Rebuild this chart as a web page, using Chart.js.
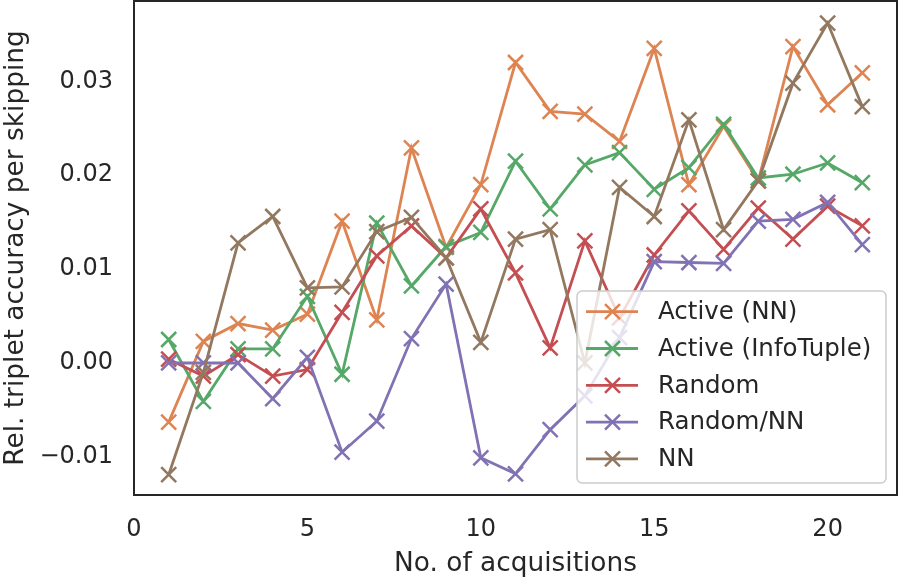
<!DOCTYPE html>
<html>
<head>
<meta charset="utf-8">
<script src="https://cdn.jsdelivr.net/npm/chart.js@4/dist/chart.umd.min.js"></script>
<style>
  html, body { margin: 0; padding: 0; background: #fff; }
  #wrap { width: 899px; height: 578px; }
</style>
</head>
<body>
<div id="wrap"><canvas id="acq-chart"></canvas></div>
<script>
// values
const acquisitions = [1, 2, 3, 4, 5, 6, 7, 8, 9, 10, 11, 12, 13, 14, 15, 16, 17, 18, 19, 20, 21];
const activeNN = [-0.0063, 0.0023, 0.0042, 0.0035, 0.0052, 0.0151, 0.0046, 0.0229, 0.0123, 0.0190, 0.0320,
                  0.0268, 0.0265, 0.0236, 0.0335, 0.0190, 0.0252, 0.0194, 0.0337, 0.0275, 0.0309];
const activeInfoTuple = [0.0025, -0.0041, 0.0015, 0.0015, 0.0071, -0.0012, 0.0149, 0.0082, 0.0124, 0.0139, 0.0215,
                         0.0164, 0.0211, 0.0224, 0.0185, 0.0208, 0.0254, 0.0197, 0.0201, 0.0213, 0.0192];
const randomSel = [0.0004, -0.0014, 0.0009, -0.0014, -0.0007, 0.0054, 0.0114, 0.0146, 0.0112, 0.0164, 0.0096,
                   0.0016, 0.0130, 0.0048, 0.0115, 0.0162, 0.0121, 0.0165, 0.0132, 0.0167, 0.0146];
const randomNN = [0.0000, 0.0000, 0.0000, -0.0038, 0.0006, -0.0095, -0.0062, 0.0026, 0.0084, -0.0101, -0.0118,
                  -0.0071, -0.0035, 0.0027, 0.0108, 0.0107, 0.0106, 0.0151, 0.0153, 0.0171, 0.0126];
const nnOnly = [-0.0119, -0.0010, 0.0128, 0.0156, 0.0080, 0.0081, 0.0140, 0.0155, 0.0112, 0.0022, 0.0132,
                0.0142, 0.0000, 0.0187, 0.0156, 0.0259, 0.0142, 0.0194, 0.0298, 0.0362, 0.0273];

const seriesNames = ['Active (NN)', 'Active (InfoTuple)', 'Random', 'Random/NN', 'NN'];
const seriesValues = [activeNN, activeInfoTuple, randomSel, randomNN, nnOnly];
const seriesColors = ['#dd8452', '#55a868', '#c44e52', '#8172b3', '#937860'];

const xTicks = [0, 5, 10, 15, 20];
const yTicks = [-0.01, 0.00, 0.01, 0.02, 0.03];

const TEXT = '#262626';
const FONT = 'DejaVu Sans';

function toPoints(vals) {
    return vals.map((v, i) => ({ x: acquisitions[i], y: v }));
}

function fmtY(v) {
    const s = Math.abs(v).toFixed(2);
    return v < -1e-9 ? '\u2212' + s : s;
}

// no extra label padding, so the plot area stays where the reference has it
function noPad(s) {
    s.paddingTop = 0;
    s.paddingBottom = 0;
    s.paddingLeft = 0;
    s.paddingRight = 0;
}

// frame around the plot + legend box inside the axes
const framePlugin = {
    id: 'frameAndLegend',
    afterDatasetsDraw(chart) {
        const ctx = chart.ctx;
        const a = chart.chartArea;

        // legend
        const w = 309, h = 192;
        const lx = a.right - 11 - w;
        const ly = a.bottom - 12 - h;
        ctx.save();
        ctx.beginPath();
        ctx.roundRect(lx, ly, w, h, 5);
        ctx.fillStyle = 'rgba(255,255,255,0.8)';
        ctx.fill();
        ctx.lineWidth = 1.5;
        ctx.strokeStyle = '#cccccc';
        ctx.stroke();

        ctx.font = '24.5px "' + FONT + '"';
        ctx.textBaseline = 'middle';
        ctx.textAlign = 'left';
        seriesNames.forEach((name, i) => {
            const y = ly + 20.7 + i * 36.8;
            const c = seriesColors[i];
            ctx.strokeStyle = c;
            ctx.lineWidth = 2.8;
            ctx.beginPath();
            ctx.moveTo(lx + 9, y);
            ctx.lineTo(lx + 61, y);
            ctx.stroke();
            const mx = lx + 35.5, r = 7.5;
            ctx.lineWidth = 2.5;
            ctx.beginPath();
            ctx.moveTo(mx - r, y - r); ctx.lineTo(mx + r, y + r);
            ctx.moveTo(mx - r, y + r); ctx.lineTo(mx + r, y - r);
            ctx.stroke();
            ctx.fillStyle = TEXT;
            ctx.fillText(name, lx + 81, y + 1);
        });

        // spines
        ctx.strokeStyle = TEXT;
        ctx.lineWidth = 2;
        ctx.strokeRect(a.left, a.top, a.right - a.left, a.bottom - a.top);
        ctx.restore();
    }
};

const chart = new Chart(document.getElementById('acq-chart').getContext('2d'), {
    type: 'line',
    data: {
        datasets: seriesNames.map((name, i) => ({
            label: name,
            data: toPoints(seriesValues[i]),
            borderColor: seriesColors[i],
            backgroundColor: seriesColors[i],
            borderWidth: 2.8,
            pointStyle: 'crossRot',
            pointRadius: 10.6,
            pointBorderWidth: 2.5,
            pointHoverRadius: 10.6,
            tension: 0,
            fill: false,
            clip: false,
            order: seriesNames.length - i   // last series on top, like matplotlib
        }))
    },
    options: {
        responsive: true,
        maintainAspectRatio: false,
        animation: false,
        layout: { autoPadding: false, padding: { left: 0, top: 1, right: 2, bottom: 0 } },
        plugins: {
            legend: { display: false },
            tooltip: { enabled: false }
        },
        scales: {
            x: {
                type: 'linear',
                min: 0,
                max: 22,
                afterBuildTicks: s => { s.ticks = xTicks.map(v => ({ value: v })); },
                afterFit: s => { s.height = 83; noPad(s); },
                grid: { display: false, drawTicks: false },
                border: { display: false },
                ticks: {
                    color: TEXT,
                    font: { family: FONT, size: 24 },
                    padding: 20,
                    maxRotation: 0
                },
                title: {
                    display: true,
                    text: 'No. of acquisitions',
                    color: TEXT,
                    font: { family: FONT, size: 26.4 },
                    padding: { top: 0, bottom: -2 }
                }
            },
            y: {
                type: 'linear',
                min: -0.01406,
                max: 0.03855,
                afterBuildTicks: s => { s.ticks = yTicks.map(v => ({ value: v })); },
                afterFit: s => { s.width = 134; noPad(s); },
                grid: { display: false, drawTicks: false },
                border: { display: false },
                ticks: {
                    color: TEXT,
                    font: { family: FONT, size: 24 },
                    padding: 21,
                    callback: v => fmtY(v)
                },
                title: {
                    display: true,
                    text: 'Rel. triplet accuracy per skipping',
                    color: TEXT,
                    font: { family: FONT, size: 26.4 },
                    padding: { top: 0, bottom: 0 }
                }
            }
        }
    },
    plugins: [framePlugin]
});
</script>
</body>
</html>
